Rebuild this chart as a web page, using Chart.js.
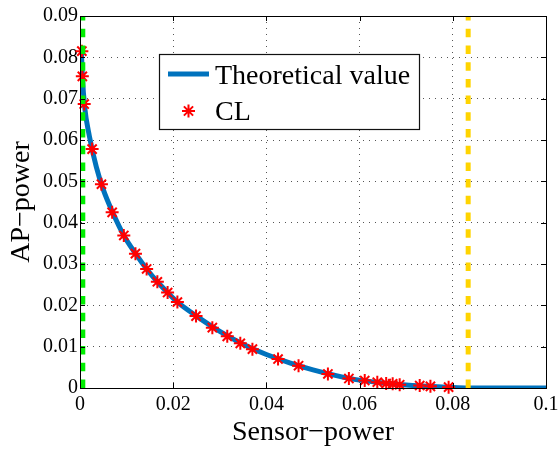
<!DOCTYPE html>
<html>
<head>
<meta charset="utf-8">
<script src="https://cdn.jsdelivr.net/npm/chart.js@4.4.1/dist/chart.umd.min.js"></script>
<style>
  html, body { margin: 0; padding: 0; background: #fff; }
  canvas { display: block; }
</style>
</head>
<body>
<canvas id="myChart" width="559" height="455"></canvas>
<script>
// CL results: sensor power vs AP power
const sensorCL = [0.0004, 0.0005, 0.0009, 0.0026, 0.0046, 0.0069, 0.0094, 0.0119, 0.0143, 0.0166,
                  0.0188, 0.0209, 0.0249, 0.0284, 0.0316, 0.0344, 0.0370, 0.0425, 0.0469, 0.0532,
                  0.0577, 0.0611, 0.0638, 0.0657, 0.0671, 0.0686, 0.0729, 0.0752, 0.0791];
const apCL     = [0.0815, 0.0754, 0.0687, 0.0578, 0.0493, 0.0425, 0.0369, 0.0325, 0.0288, 0.0257,
                  0.0231, 0.0208, 0.0174, 0.0146, 0.0125, 0.0108, 0.0094, 0.0070, 0.0054, 0.0034,
                  0.0023, 0.0018, 0.0014, 0.0011, 0.0010, 0.0008, 0.0006, 0.0004, 0.0002];

// theoretical boundary
const sensorTheory = [0.0003, 0.0005, 0.001, 0.002, 0.0035, 0.005, 0.007, 0.0094, 0.012, 0.0143,
                      0.0166, 0.0188, 0.021, 0.025, 0.03, 0.035, 0.04, 0.045, 0.05, 0.055,
                      0.06, 0.065, 0.07, 0.075, 0.08, 0.0833, 0.1];
const apTheory     = [0.0815, 0.0756, 0.068, 0.061, 0.0535, 0.048, 0.0425, 0.0369, 0.0324, 0.0288,
                      0.0257, 0.0231, 0.0207, 0.0174, 0.0137, 0.0106, 0.0081, 0.0061, 0.0044, 0.0030,
                      0.0019, 0.0012, 0.0007, 0.0004, 0.0001, 0, 0];

// sensor power limits (dashed verticals)
const sensorMin = 0.0006;
const sensorMax = 0.0833;

const xRange = [0, 0.1];
const yRange = [0, 0.09];
const xStep = 0.02;
const yStep = 0.01;

const legendLabels = ['Theoretical value', 'CL'];

const serif = "'Liberation Serif', 'Times New Roman', Times, serif";
const blue = '#0072BD';
const red = '#ff0000';

function pairs(xs, ys) {
    return xs.map((x, i) => ({x: x, y: ys[i]}));
}

function fmt(v) {
    return String(+v.toFixed(3));
}

// box around the axes with small inward ticks on every side
const axesBox = {
    id: 'axesBox',
    afterDatasetsDraw(chart) {
        const {ctx, chartArea: a, scales} = chart;
        ctx.save();
        ctx.strokeStyle = '#000';
        ctx.lineWidth = 1;
        ctx.strokeRect(Math.round(a.left) + 0.5, Math.round(a.top) + 0.5,
                       Math.round(a.right - a.left), Math.round(a.bottom - a.top));
        const len = 5;
        ctx.beginPath();
        scales.x.ticks.forEach(t => {
            const px = Math.round(scales.x.getPixelForValue(t.value)) + 0.5;
            ctx.moveTo(px, a.bottom); ctx.lineTo(px, a.bottom - len);
            ctx.moveTo(px, a.top); ctx.lineTo(px, a.top + len);
        });
        scales.y.ticks.forEach(t => {
            const py = Math.round(scales.y.getPixelForValue(t.value)) + 0.5;
            ctx.moveTo(a.left, py); ctx.lineTo(a.left + len, py);
            ctx.moveTo(a.right, py); ctx.lineTo(a.right - len, py);
        });
        ctx.stroke();
        ctx.restore();
    }
};

// legend drawn inside the plot
const legendBox = {
    id: 'legendBox',
    afterDraw(chart) {
        const ctx = chart.ctx;
        const bx = 159.5, by = 54.5, bw = 260, bh = 75;
        ctx.save();
        ctx.fillStyle = '#fff';
        ctx.fillRect(bx, by, bw, bh);
        ctx.strokeStyle = '#111';
        ctx.lineWidth = 1.2;
        ctx.strokeRect(bx, by, bw, bh);

        ctx.strokeStyle = blue;
        ctx.lineWidth = 5;
        ctx.beginPath();
        ctx.moveTo(168, 74);
        ctx.lineTo(209, 74);
        ctx.stroke();

        ctx.strokeStyle = red;
        ctx.fillStyle = red;
        ctx.lineWidth = 2;
        Chart.helpers.drawPoint(ctx, {pointStyle: 'star', radius: 6.5, borderWidth: 2}, 188.5, 111);

        ctx.fillStyle = '#000';
        ctx.font = '28px ' + serif;
        ctx.textBaseline = 'alphabetic';
        ctx.fillText(legendLabels[0], 215, 83.5);
        ctx.fillText(legendLabels[1], 215, 119.5);
        ctx.restore();
    }
};

const ctx = document.getElementById('myChart').getContext('2d');

const myChart = new Chart(ctx, {
    type: 'scatter',
    data: {
        datasets: [{
            label: 'Sensor max',
            type: 'line',
            data: [{x: sensorMax, y: yRange[0]}, {x: sensorMax, y: yRange[1]}],
            borderColor: '#FFD400',
            borderWidth: 5,
            borderDash: [8.5, 8.2],
            pointRadius: 0,
            showLine: true
        }, {
            label: 'Sensor min',
            type: 'line',
            data: [{x: sensorMin, y: yRange[0]}, {x: sensorMin, y: yRange[1]}],
            borderColor: '#00ee00',
            borderWidth: 5,
            borderDash: [8.5, 8.2],
            pointRadius: 0,
            showLine: true
        }, {
            label: legendLabels[1],
            data: pairs(sensorCL, apCL),
            pointStyle: 'star',
            pointRadius: 6.5,
            pointBorderWidth: 2,
            borderColor: red,
            backgroundColor: red,
            showLine: false,
            clip: false
        }, {
            label: legendLabels[0],
            type: 'line',
            data: pairs(sensorTheory, apTheory),
            borderColor: blue,
            borderWidth: 5,
            pointRadius: 0,
            cubicInterpolationMode: 'monotone',
            showLine: true,
            clip: 0
        }]
    },
    options: {
        responsive: false,
        animation: false,
        devicePixelRatio: 1,
        layout: {
            padding: {top: 16, right: 13, left: 0, bottom: 0}
        },
        plugins: {
            legend: {display: false},
            tooltip: {enabled: false}
        },
        scales: {
            x: {
                type: 'linear',
                min: xRange[0],
                max: xRange[1],
                afterFit(scale) {
                    scale.height = 67;
                    scale.paddingLeft = 0;
                    scale.paddingRight = 0;
                },
                ticks: {
                    stepSize: xStep,
                    padding: 5,
                    color: '#000',
                    maxRotation: 0,
                    font: {family: serif, size: 20},
                    callback: v => fmt(v)
                },
                grid: {
                    color: '#555',
                    lineWidth: 1,
                    drawTicks: false
                },
                border: {display: true, color: '#000', width: 1, dash: [1, 5]},
                title: {
                    display: true,
                    text: 'Sensor\u2212power',
                    color: '#000',
                    font: {family: serif, size: 28},
                    padding: {top: 0, bottom: 6}
                }
            },
            y: {
                type: 'linear',
                min: yRange[0],
                max: yRange[1],
                afterFit(scale) {
                    scale.width = 80;
                    scale.paddingTop = 0;
                    scale.paddingBottom = 0;
                },
                ticks: {
                    stepSize: yStep,
                    padding: 2,
                    color: '#000',
                    font: {family: serif, size: 20},
                    callback: v => fmt(v)
                },
                grid: {
                    color: '#555',
                    lineWidth: 1,
                    drawTicks: false
                },
                border: {display: true, color: '#000', width: 1, dash: [1, 5]},
                title: {
                    display: true,
                    text: 'AP\u2212power',
                    color: '#000',
                    font: {family: serif, size: 28},
                    padding: {top: 5, bottom: 0}
                }
            }
        }
    },
    plugins: [axesBox, legendBox]
});
</script>
</body>
</html>
